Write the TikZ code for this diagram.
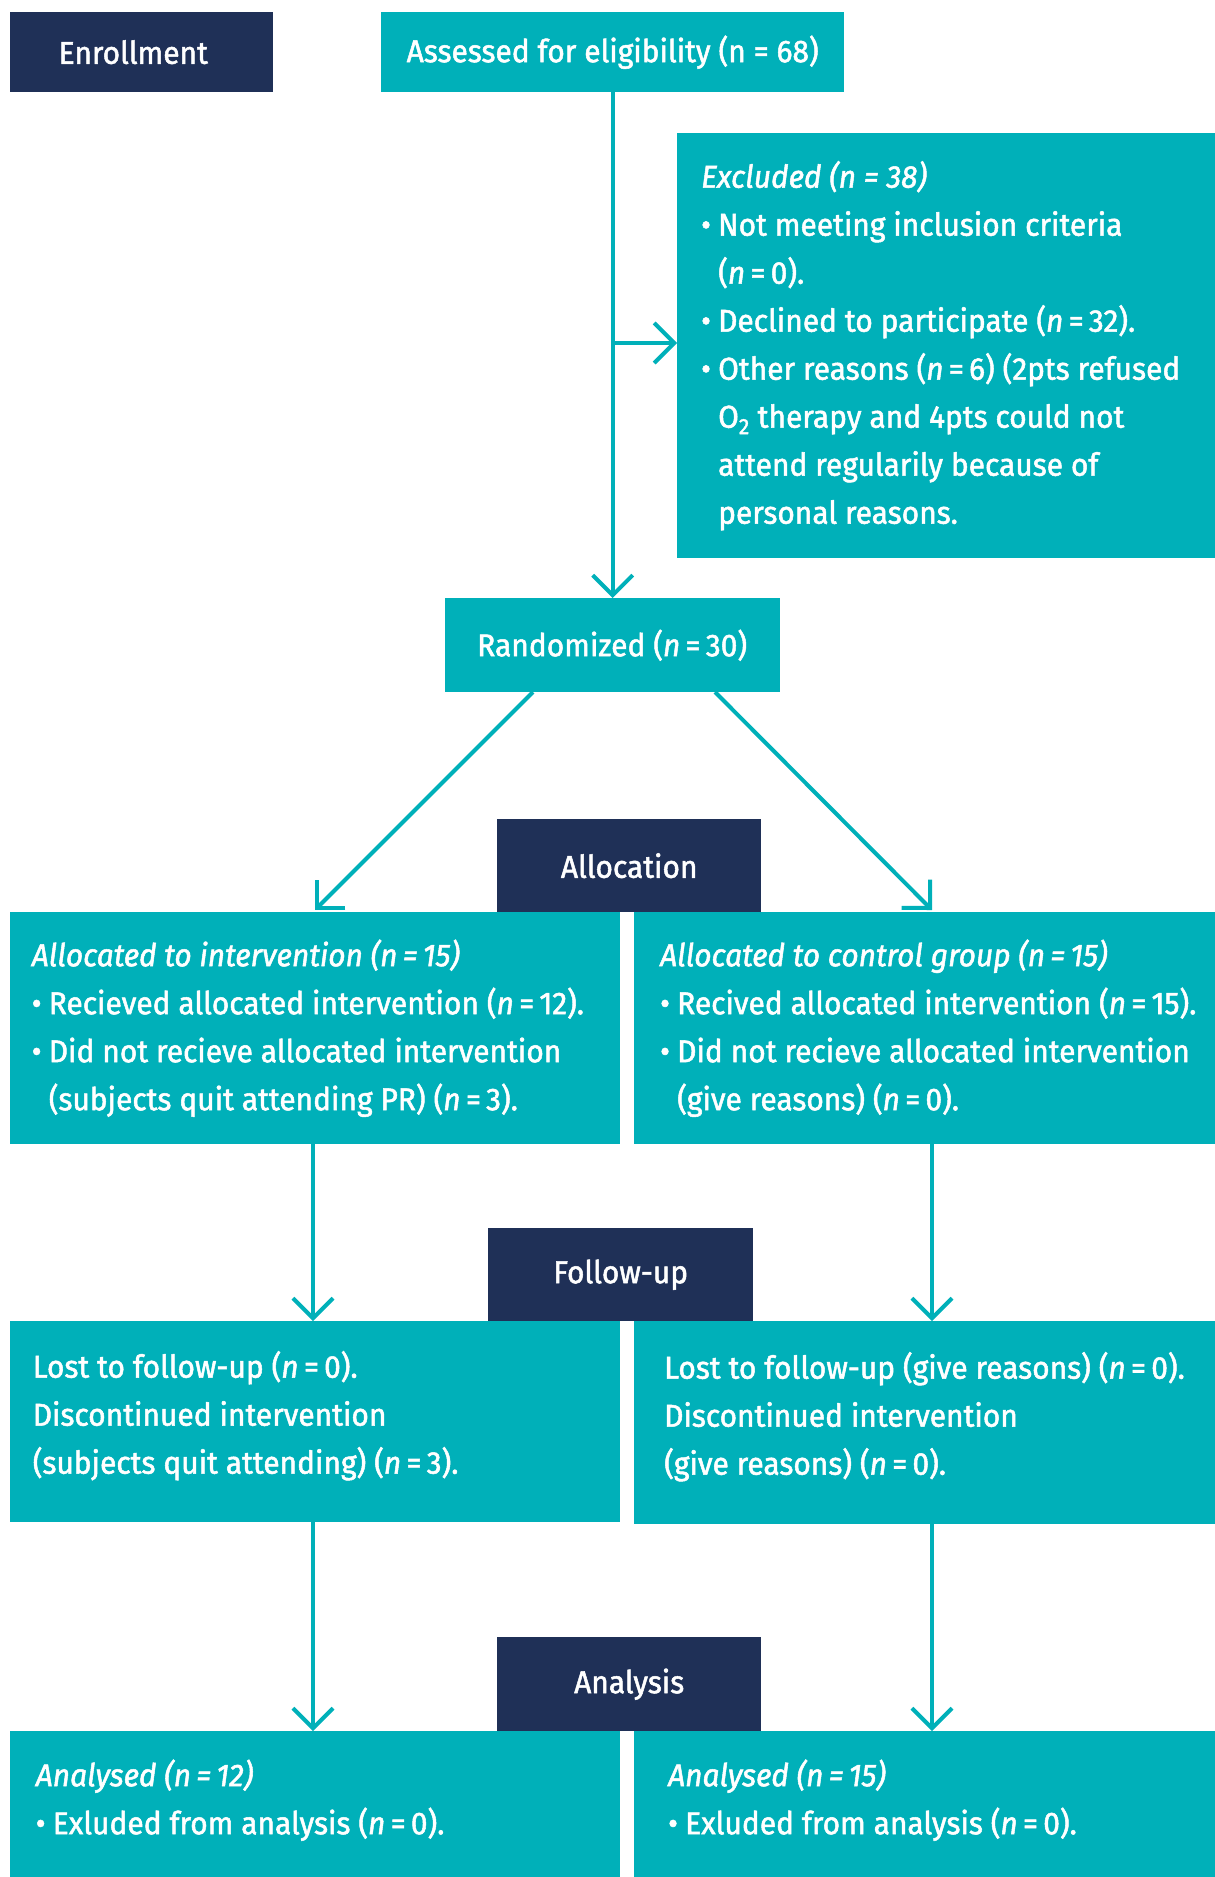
\documentclass[tikz,border=0pt]{standalone}
\usepackage{fontspec}
\setmainfont{Fira Sans}[FakeStretch=0.95,FakeBold=1.6]
\usetikzlibrary{arrows.meta}
\definecolor{tealc}{RGB}{0,176,185}
\definecolor{navyc}{RGB}{31,48,87}
\newcommand\bul{\makebox[17pt][l]{•}}
\newcommand\ind{\hspace*{17pt}}
\newcommand\nn{\textit{n}\,=\,}
\begin{document}
\begin{tikzpicture}[x=1pt,y=-1pt,
  fs/.style={font=\fontsize{31.5}{48}\selectfont},
  tbox/.style={fill=tealc, text=white, inner sep=0pt, anchor=north west, fs},
  nbox/.style={fill=navyc, text=white, inner sep=0pt, anchor=north west, fs},
  txt/.style={text=white, inner sep=0pt, anchor=west, align=left, fs},
  arr/.style={draw=tealc, line width=4pt, -{Straight Barb[length=20pt,width=40pt]}},
  ln/.style={draw=tealc, line width=4pt}]
\useasboundingbox (0,0) rectangle (1215,1877);
% top
\node[nbox, minimum width=263pt, minimum height=80pt] (enroll) at (9.6,12) {Enrollment\hspace*{16pt}};
\node[tbox, minimum width=463pt, minimum height=80pt] (assess) at (381,12) {Assessed for eligibility (n = 68)};
\node[tbox, minimum width=538pt, minimum height=425pt] (excl) at (677,133) {};
\node[txt] (exclt) at ([xshift=24pt]excl.west) {\textit{Excluded (n = 38)}\\
\bul Not meeting inclusion criteria\\
\ind(\nn0).\\
\bul Declined to participate (\nn32).\\
\bul Other reasons (\nn6) (2pts refused\\
\ind O\textsubscript{2} therapy and 4pts could not\\
\ind attend regularily because of\\
\ind personal reasons.};
\node[tbox, minimum width=335pt, minimum height=94pt] (rand) at (444.5,598) {Randomized (\nn30)};
% allocation
\node[nbox, minimum width=264pt, minimum height=93pt] (alloc) at (497,819) {Allocation};
\node[tbox, minimum width=610.4pt, minimum height=232pt] (aL) at (9.6,912) {};
\node[txt] (aLt) at ([xshift=22pt]aL.west) {\textit{Allocated to intervention (\nn15)}\\
\bul Recieved allocated intervention (\nn12).\\
\bul Did not recieve allocated intervention\\
\ind(subjects quit attending PR) (\nn3).};
\node[tbox, minimum width=581pt, minimum height=232pt] (aR) at (634,912) {};
\node[txt] (aRt) at ([xshift=26pt]aR.west) {\textit{Allocated to control group (\nn15)}\\
\bul Recived allocated intervention (\nn15).\\
\bul Did not recieve allocated intervention\\
\ind(give reasons) (\nn0).};
% follow-up
\node[nbox, minimum width=265pt, minimum height=93pt] (fu) at (488,1228) {Follow-up};
\node[tbox, minimum width=610.4pt, minimum height=201pt] (fL) at (9.6,1321) {};
\node[txt] (fLt) at ([xshift=23pt,yshift=6pt]fL.west) {Lost to follow-up (\nn0).\\
Discontinued intervention\\
(subjects quit attending) (\nn3).};
\node[tbox, minimum width=581pt, minimum height=203pt] (fR) at (634,1321) {};
\node[txt] (fRt) at ([xshift=30pt,yshift=6pt]fR.west) {Lost to follow-up (give reasons) (\nn0).\\
Discontinued intervention\\
(give reasons) (\nn0).};
% analysis
\node[nbox, minimum width=264pt, minimum height=94pt] (ana) at (497,1637) {Analysis};
\node[tbox, minimum width=610.4pt, minimum height=146pt] (nL) at (9.6,1731) {};
\node[txt] (nLt) at ([xshift=26pt,yshift=4pt]nL.west) {\textit{Analysed (\nn12)}\\
\bul Exluded from analysis (\nn0).};
\node[tbox, minimum width=581pt, minimum height=146pt] (nR) at (634,1731) {};
\node[txt] (nRt) at ([xshift=34pt,yshift=4pt]nR.west) {\textit{Analysed (\nn15)}\\
\bul Exluded from analysis (\nn0).};
% connectors
\coordinate (mid) at (612,343);
\coordinate (Lx) at (313,0);
\coordinate (Rx) at (932,0);
\coordinate (dLs) at (533,692);
\coordinate (dLe) at (315,910);
\coordinate (dRs) at (715,692);
\coordinate (dRe) at (932,910);
\draw[arr] (assess.south) -- (assess.south |- rand.north);
\draw[arr] (mid) -- (mid -| excl.west);
\draw[arr] (dLs) -- (dLe);
\draw[arr] (dRs) -- (dRe);
\draw[arr] (Lx |- aL.south) -- (Lx |- fL.north);
\draw[arr] (Rx |- aR.south) -- (Rx |- fR.north);
\draw[arr] (Lx |- fL.south) -- (Lx |- nL.north);
\draw[arr] (Rx |- fR.south) -- (Rx |- nR.north);
\end{tikzpicture}
\end{document}
